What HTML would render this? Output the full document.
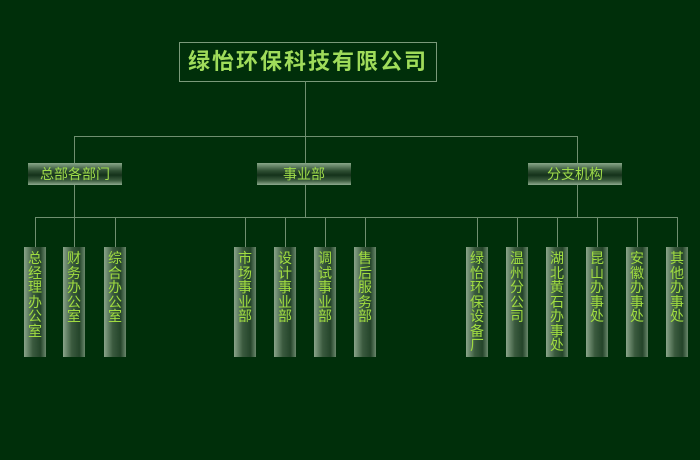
<!DOCTYPE html>
<html><head><meta charset="utf-8"><style>
body{margin:0;width:700px;height:460px;background:#002f0a;position:relative;overflow:hidden;font-family:"Liberation Sans","Noto Sans CJK SC",sans-serif}
.l{position:absolute;background:#6f8f70}
.t{position:absolute;left:179px;top:42px;width:256px;height:38px;border:1px solid #7a9a7a;color:#9fdc5a;font-size:22px;font-weight:bold;line-height:38px;text-align:center;letter-spacing:2px}
.m{position:absolute;top:163px;width:94px;height:22px;background:linear-gradient(#8aa88a,#2f4f33 35%,#14321a 55%,#3d5d40 80%,#90ac90);color:#9fdc4a;font-size:14px;line-height:22px;text-align:center}
.f{position:absolute;top:247px;width:22px;height:110px;background:linear-gradient(90deg,#8aa58a,#3a5a3e 40%,#24442a 75%,#6a886c);color:#a0dc40;font-size:14px;line-height:14.5px;text-align:center;padding-top:4px;box-sizing:border-box;word-break:break-all}
</style></head><body>
<div class="t">绿怡环保科技有限公司</div>
<div class="l" style="left:305px;top:81px;width:1px;height:82px"></div>
<div class="l" style="left:74px;top:136px;width:504px;height:1px"></div>
<div class="l" style="left:74px;top:136px;width:1px;height:27px"></div>
<div class="l" style="left:577px;top:136px;width:1px;height:27px"></div>
<div class="m" style="left:28px">总部各部门</div>
<div class="m" style="left:257px">事业部</div>
<div class="m" style="left:528px">分支机构</div>
<div class="l" style="left:74px;top:185px;width:1px;height:32px"></div>
<div class="l" style="left:305px;top:185px;width:1px;height:32px"></div>
<div class="l" style="left:577px;top:185px;width:1px;height:32px"></div>
<div class="l" style="left:35px;top:217px;width:643px;height:1px"></div>
<div class="l" style="left:35px;top:217px;width:1px;height:30px"></div>
<div class="l" style="left:74px;top:217px;width:1px;height:30px"></div>
<div class="l" style="left:115px;top:217px;width:1px;height:30px"></div>
<div class="l" style="left:245px;top:217px;width:1px;height:30px"></div>
<div class="l" style="left:285px;top:217px;width:1px;height:30px"></div>
<div class="l" style="left:325px;top:217px;width:1px;height:30px"></div>
<div class="l" style="left:365px;top:217px;width:1px;height:30px"></div>
<div class="l" style="left:477px;top:217px;width:1px;height:30px"></div>
<div class="l" style="left:517px;top:217px;width:1px;height:30px"></div>
<div class="l" style="left:557px;top:217px;width:1px;height:30px"></div>
<div class="l" style="left:597px;top:217px;width:1px;height:30px"></div>
<div class="l" style="left:637px;top:217px;width:1px;height:30px"></div>
<div class="l" style="left:677px;top:217px;width:1px;height:30px"></div>
<div class="f" style="left:24px">总经理办公室</div>
<div class="f" style="left:63px">财务办公室</div>
<div class="f" style="left:104px">综合办公室</div>
<div class="f" style="left:234px">市场事业部</div>
<div class="f" style="left:274px">设计事业部</div>
<div class="f" style="left:314px">调试事业部</div>
<div class="f" style="left:354px">售后服务部</div>
<div class="f" style="left:466px">绿怡环保设备厂</div>
<div class="f" style="left:506px">温州分公司</div>
<div class="f" style="left:546px">湖北黄石办事处</div>
<div class="f" style="left:586px">昆山办事处</div>
<div class="f" style="left:626px">安徽办事处</div>
<div class="f" style="left:666px">其他办事处</div>
</body></html>
